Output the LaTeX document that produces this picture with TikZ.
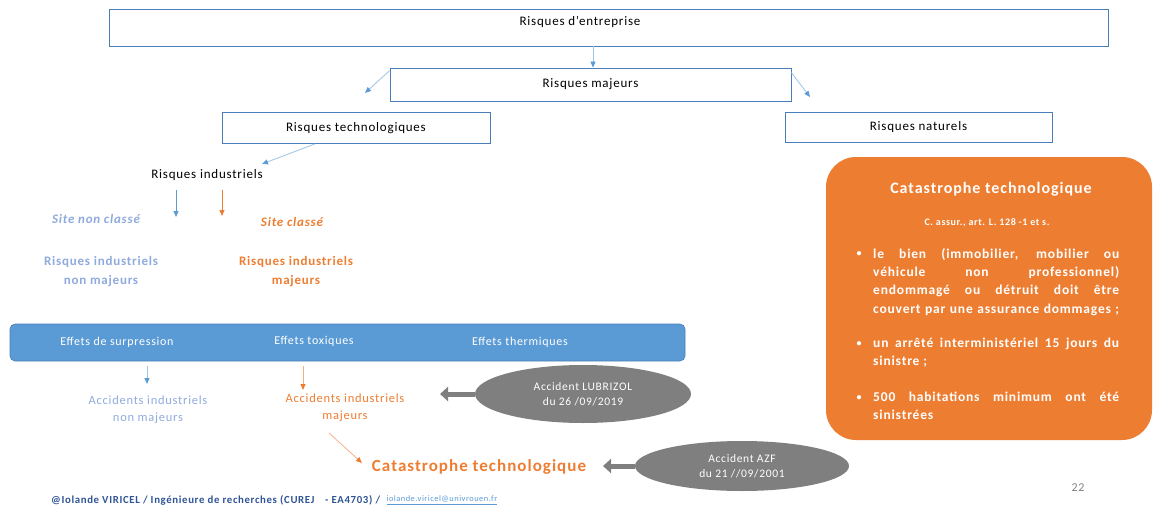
\documentclass[tikz,border=0pt]{standalone}
\usepackage{fontspec}
\setmainfont{Carlito}[LetterSpace=6]
\usetikzlibrary{arrows.meta,shapes.geometric}
\definecolor{bord}{HTML}{4A7EBB}
\definecolor{lblue}{HTML}{9DC3E6}
\definecolor{tipblue}{HTML}{5B9BD5}
\definecolor{barblue}{HTML}{5B9BD5}
\definecolor{txtblue}{HTML}{8FAADC}
\definecolor{orng}{HTML}{ED7D31}
\definecolor{lorng}{HTML}{F4B183}
\definecolor{gry}{HTML}{7F7F7F}
\definecolor{foot}{HTML}{2F5597}
\newcommand{\jl}[1]{\makebox[246pt][s]{#1}}
\newcommand{\nl}[1]{\makebox[246pt][l]{#1}}
\begin{document}
\begin{tikzpicture}[x=1pt,y=-1pt,
  bx/.style={draw=bord, line width=0.8pt, fill=white, inner sep=0pt},
  lbl/.style={font=\fontsize{13}{15}\selectfont, text=black, inner sep=0pt},
  conn/.style={draw=lblue, line width=0.8pt, -{Triangle[length=6pt,width=5pt,color=tipblue]}},
  oconn/.style={draw=lorng, line width=0.8pt, -{Triangle[length=6pt,width=5pt,color=orng]}},
  bconn/.style={draw=tipblue, line width=0.8pt, -{Triangle[length=6pt,width=5pt,color=tipblue]}},
  blk/.style={draw=gry, line width=5pt, -{Triangle[length=8pt,width=14pt]}},
  bluetxt/.style={text=txtblue, font=\bfseries\fontsize{13}{19}\selectfont, align=center, inner sep=0pt},
  orgtxt/.style={text=orng, font=\bfseries\fontsize{13}{19}\selectfont, align=center, inner sep=0pt},
  efftxt/.style={text=white, font=\fontsize{12}{14}\selectfont, inner sep=0pt},
  ell/.style={ellipse, fill=gry, inner sep=0pt, text=white, align=center, font=\fontsize{11.5}{15.5}\selectfont},
  wb/.style={text=white, font=\bfseries\fontsize{13.5}{18.3}\selectfont, inner sep=0pt, align=left}
]
\useasboundingbox (0,0) rectangle (1153,508);
% boxes
\node[bx, minimum width=999pt, minimum height=37pt] (ent) at (608.5,27.5) {};
\node[lbl] (entt) at (580,22) {Risques d’entreprise};
\node[bx, minimum width=401pt, minimum height=33pt, lbl, draw=bord] (maj) at (590.5,84.5) {Risques majeurs};
\node[bx, minimum width=268pt, minimum height=31pt, lbl, draw=bord] (tech) at (356,128) {Risques technologiques};
\node[bx, minimum width=267pt, minimum height=30pt, lbl, draw=bord] (nat) at (918.5,127) {Risques naturels};
% arrows between top boxes
\draw[conn] ([xshift=-15.5pt]ent.south) -- ([xshift=2.5pt]maj.north);
\coordinate (techin) at (365,93);
\coordinate (natin) at (810,97);
\draw[conn] ([yshift=-3pt]maj.north west) -- (techin);
\draw[conn] ([yshift=-5pt]maj.north east) -- (natin);
% industrial risks
\node[lbl] (ind) at (207,175) {Risques industriels};
\coordinate (indin) at (262,164);
\draw[conn] ([xshift=-41pt]tech.south) -- (indin);
\coordinate (b1s) at (176,190); \coordinate (b1e) at (176,217);
\coordinate (o1s) at (222,190); \coordinate (o1e) at (222,216);
\draw[bconn] (b1s) -- (b1e);
\draw[oconn, draw=orng] (o1s) -- (o1e);
\node[text=txtblue, font=\bfseries\itshape\fontsize{13}{15}\selectfont, inner sep=0pt] (snc) at (96,219) {Site non classé};
\node[text=orng, font=\bfseries\itshape\fontsize{13}{15}\selectfont, inner sep=0pt] (sc) at (292,222) {Site classé};
\node[bluetxt] (rinm) at (101,272) {Risques industriels\\non majeurs};
\node[orgtxt] (rim) at (296,272) {Risques industriels\\majeurs};
% effects bar
\node[fill=barblue, draw=bord, line width=0.6pt, rounded corners=5pt, minimum width=675pt, minimum height=37pt, inner sep=0pt] (bar) at (347.5,342.5) {};
\node[efftxt] (e1) at (117,342) {Effets de surpression};
\node[efftxt] (e2) at (314,341) {Effets toxiques};
\node[efftxt] (e3) at (520,342) {Effets thermiques};
% accidents
\coordinate (b2s) at (147,366); \coordinate (b2e) at (147,384);
\coordinate (o2s) at (303,366); \coordinate (o2e) at (303,390);
\draw[bconn, draw=lblue] (b2s) -- (b2e);
\draw[oconn] (o2s) -- (o2e);
\node[text=txtblue, font=\fontsize{12.5}{17}\selectfont, align=center, inner sep=0pt] (ainm) at (148,409.5) {Accidents industriels\\non majeurs};
\node[text=orng, font=\fontsize{12.5}{17}\selectfont, align=center, inner sep=0pt] (aim) at (345,408) {Accidents industriels\\majeurs};
% catastrophe
\node[text=orng, font=\bfseries\fontsize{17}{20}\selectfont, inner sep=0pt] (cat) at (479,467) {Catastrophe technologique};
\coordinate (cats) at (329,433);
\coordinate (cate) at (362,463);
\draw[oconn] (cats) -- (cate);
% ellipses
\node[ell, minimum width=216pt, minimum height=58pt] (lub) at (583,394) {Accident LUBRIZOL\\du 26 /09/2019};
\coordinate (lubtip) at (440,394);
\draw[blk] (lub.west) -- (lubtip);
\node[ell, minimum width=214pt, minimum height=50pt] (azf) at (742,466) {Accident AZF\\du 21 //09/2001};
\coordinate (azftip) at (603,466);
\draw[blk] (azf.west) -- (azftip);
% orange box
\node[fill=orng, rounded corners=30pt, minimum width=326pt, minimum height=283pt, inner sep=0pt] (cbox) at (989,298.5) {};
\node[text=white, font=\bfseries\fontsize{16}{18}\selectfont, inner sep=0pt] (ctitle) at (991,189) {Catastrophe technologique};
\node[text=white, font=\bfseries\fontsize{10}{12}\selectfont, inner sep=0pt] (cref) at (987,223) {C. assur., art. L. 128 -1 et s.};
\node[wb, anchor=north west] (c1) at (873,248) {\jl{le bien (immobilier, mobilier ou}\\\jl{véhicule non professionnel)}\\\jl{endommagé ou détruit doit être}\\\jl{couvert par une assurance dommages ;}};
\node[wb, anchor=north west] (c2) at (873,338) {\jl{un arrêté interministériel 15 jours du}\\\nl{sinistre ;}};
\node[wb, anchor=north west] (c3) at (873,392) {\jl{500 habitations minimum ont été}\\\nl{sinistrées}};
\foreach \y/\n in {254/d1,344/d2,398/d3} \node[text=white, font=\bfseries\fontsize{10}{12}\selectfont, inner sep=0pt] (\n) at (859,\y) {•};
% footer
\node[anchor=west, text=foot, font=\bfseries\fontsize{10.8}{12}\selectfont, inner sep=0pt] (ft) at (51,500) {@Iolande VIRICEL / Ingénieure de recherches (CUREJ\quad - EA4703) /};
\node[anchor=west, text=tipblue, font=\fontsize{8.4}{10}\selectfont, inner sep=0pt] (mail) at (ft.east) {\hspace{6pt}\underline{iolande.viricel@univrouen.fr}};
\node[text=gry, font=\fontsize{12}{14}\selectfont, inner sep=0pt] (pg) at (1078,488) {22};
\end{tikzpicture}
\end{document}
